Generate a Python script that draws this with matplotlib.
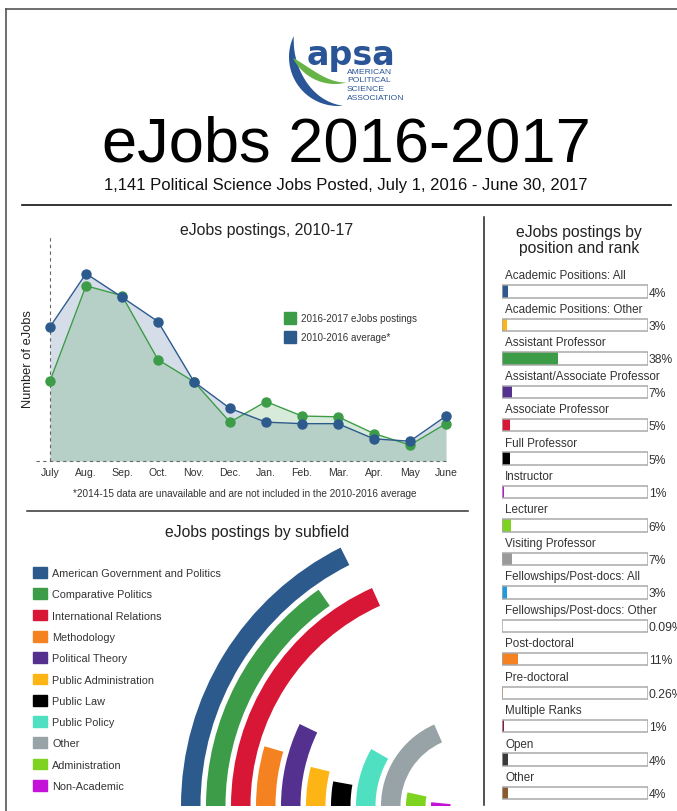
import numpy as np
import matplotlib
matplotlib.use("Agg")
import matplotlib.pyplot as plt
from matplotlib.lines import Line2D
from matplotlib.patches import Patch, Polygon

plt.rcParams["font.family"] = ["Liberation Sans", "DejaVu Sans"]

W, H = 677, 812

# line chart data (number of postings per month)
months = ["July", "Aug.", "Sep.", "Oct.", "Nov.", "Dec.",
          "Jan.", "Feb.", "Mar.", "Apr.", "May", "June"]
postings_2016 = [105, 230, 217, 133, 104, 51, 78, 59, 58, 36, 21, 49]
average_2010 = [176, 246, 215, 183, 104, 69, 51, 49, 49, 29, 26, 59]

# subfield radial bars (arc length in degrees)
subfields = ["American Government and Politics", "Comparative Politics",
             "International Relations", "Methodology", "Political Theory",
             "Public Administration", "Public Law", "Public Policy", "Other",
             "Administration", "Non-Academic"]
subfield_deg = [63.4, 55.0, 65.8, 16.2, 25.7, 13.8, 10.2, 30.0, 66.3, 12.3, 5.5]
subfield_colors = ["#2d5a8d", "#3d9c47", "#d81636", "#f58220", "#54308f",
                   "#fdb515", "#000000", "#4fe0c2", "#97a3a6", "#7ed321",
                   "#c512d8"]

# position and rank
ranks = ["Academic Positions: All", "Academic Positions: Other",
         "Assistant Professor", "Assistant/Associate Professor",
         "Associate Professor", "Full Professor", "Instructor", "Lecturer",
         "Visiting Professor", "Fellowships/Post-docs: All",
         "Fellowships/Post-docs: Other", "Post-doctoral", "Pre-doctoral",
         "Multiple Ranks", "Open", "Other"]
rank_pct = [4, 3, 38, 7, 5, 5, 1, 6, 7, 3, 0.09, 11, 0.26, 1, 4, 4]
rank_labels = ["4%", "3%", "38%", "7%", "5%", "5%", "1%", "6%", "7%", "3%",
               "0.09%", "11%", "0.26%", "1%", "4%", "4%"]
rank_colors = ["#2d5a8d", "#fdb515", "#3d9c47", "#54308f", "#d81636",
               "#000000", "#c512d8", "#7ed321", "#999999", "#1f9be0",
               "#1f9be0", "#f58220", "#f58220", "#8b1a3a", "#3a3a3a",
               "#8b5a2b"]

BLUE = "#2d5a8d"
GREEN = "#3d9c47"
LOGO_BLUE = "#2a5597"
LOGO_GREEN = "#66b446"
TXT = "#333333"


def fx(x):
    return x / W


def fy(y):
    return 1 - y / H


def box(x0, y0, x1, y1):
    # pixel box with top-left origin -> figure fraction rect
    return [x0 / W, 1 - y1 / H, (x1 - x0) / W, (y1 - y0) / H]


def rule(x0, y0, x1, y1, color="#222222", lw=1.1):
    fig.add_artist(Line2D([fx(x0), fx(x1)], [fy(y0), fy(y1)], color=color,
                          lw=lw, transform=fig.transFigure))


def swoosh(ax, cx, cy, r, a0, a1, thick, color, power=1.0):
    t = np.linspace(0, 1, 80)
    ang = np.radians(a0 + (a1 - a0) * t)
    w = thick * np.sin(np.pi * t ** power)
    outer = np.column_stack([cx + r * np.cos(ang), cy + r * np.sin(ang)])
    inner = np.column_stack([cx + (r - w) * np.cos(ang), cy + (r - w) * np.sin(ang)])
    ax.add_patch(Polygon(np.vstack([outer, inner[::-1]]), closed=True,
                         facecolor=color, edgecolor="none"))


fig = plt.figure(figsize=(W / 100, H / 100), dpi=100)

# page frame and rules
rule(6, 10, W, 10, color="#555555", lw=1.2)
rule(6, 10, 6, H, color="#555555", lw=1.2)
rule(22, 205.5, 671, 205.5, color="#111111", lw=1.2)
rule(27, 512, 468, 512, color="#333333", lw=1.1)
rule(484, 218, 484, 806, color="#222222", lw=1.1)

# logo
logo = fig.add_axes(box(270, 25, 420, 110))
logo.set_xlim(270, 420)
logo.set_ylim(110, 25)
logo.axis("off")
swoosh(logo, 338, 58, 49, 205, 84, 9, LOGO_BLUE, power=0.85)
swoosh(logo, 335, 38, 47, 153, 76, 7, LOGO_GREEN, power=0.75)
logo.text(350.5, 65, "apsa", fontsize=24, fontweight="bold", color=LOGO_BLUE,
          ha="center", va="baseline", family="DejaVu Sans")
for yy, word in zip([72, 80.5, 89.5, 98.5],
                    ["AMERICAN", "POLITICAL", "SCIENCE", "ASSOCIATION"]):
    logo.text(347, yy, word, fontsize=6.1, color=LOGO_BLUE, ha="left", va="center")

# headings
fig.text(fx(346), fy(162), "eJobs 2016-2017", fontsize=45.5, ha="center",
         va="baseline", color="black")
fig.text(fx(346), fy(190), "1,141 Political Science Jobs Posted, July 1, 2016 - June 30, 2017",
         fontsize=12, ha="center", va="baseline", color="#111111")

# line chart
ax = fig.add_axes(box(35.6, 238, 446, 462))
x = np.arange(len(months))
ax.fill_between(x, average_2010, color=BLUE, alpha=0.2, lw=0)
ax.fill_between(x, postings_2016, color=GREEN, alpha=0.2, lw=0)
ax.plot(x, postings_2016, color=GREEN, lw=1, marker="o", ms=6.5,
        clip_on=False, zorder=4)
ax.plot(x, average_2010, color=BLUE, lw=1, marker="o", ms=6.5,
        clip_on=False, zorder=5)
ax.axvline(0, color="#666666", lw=0.8, ls=(0, (3, 3)), clip_on=False, zorder=1)
ax.axhline(0, color="#666666", lw=0.8, ls=(0, (3, 3)), clip_on=False, zorder=1)
ax.set_xlim(-0.4, 11)
ax.set_ylim(0, 294)
for s in ax.spines.values():
    s.set_visible(False)
ax.set_xticks(x)
ax.set_xticklabels(months, fontsize=7.6, color=TXT)
ax.tick_params(axis="x", length=0, pad=4)
ax.set_yticks([])
ax.set_ylabel("Number of eJobs", fontsize=9.3, color="#222222")
ax.yaxis.set_label_coords(-0.004, 0.46)

fig.text(fx(267), fy(230), "eJobs postings, 2010-17", fontsize=11.4,
         ha="center", va="center", color="#222222")
fig.legend(handles=[Line2D([], [], marker="s", ls="none", ms=8, color=GREEN,
                           label="2016-2017 eJobs postings"),
                    Line2D([], [], marker="s", ls="none", ms=8, color=BLUE,
                           label="2010-2016 average*")],
           loc="upper left", bbox_to_anchor=(fx(285), fy(314)), frameon=False,
           fontsize=7.1, handlelength=1.1, handletextpad=0.5, labelspacing=0.92,
           borderpad=0, borderaxespad=0, labelcolor=TXT)
fig.text(fx(245), fy(494),
         "*2014-15 data are unavailable and are not included in the 2010-2016 average",
         fontsize=7.2, ha="center", va="center", color=TXT)

# subfield radial bars
fig.text(fx(257), fy(533), "eJobs postings by subfield", fontsize=11.3,
         ha="center", va="center", color="#222222")
R = 300
pol = fig.add_axes(box(470 - R, 807 - R, 470, 807), projection="polar")
pol.set_theta_offset(np.pi)
pol.set_theta_direction(-1)
pol.set_thetamin(0)
pol.set_thetamax(90)
pol.set_ylim(0, R)
pol.set_axis_off()
theta = np.radians(subfield_deg)
inner = 269.5 - 25 * np.arange(len(subfields))
pol.bar(theta / 2, 19.5, width=theta, bottom=inner, color=subfield_colors,
        lw=0, align="center")

fig.legend(handles=[Patch(facecolor=c, edgecolor=c, label=s)
                    for s, c in zip(subfields, subfield_colors)],
           loc="upper left", bbox_to_anchor=(fx(33.3), fy(568)), frameon=False,
           fontsize=7.8, handlelength=1.3, handleheight=1.14, handletextpad=0.45,
           labelspacing=0.95, borderpad=0, borderaxespad=0, labelcolor=TXT)

# position and rank bars
fig.text(fx(579), fy(240.5), "eJobs postings by\nposition and rank",
         fontsize=11.3, ha="center", va="center", color="#222222",
         linespacing=1.05)
rk = fig.add_axes(box(502.3, 259.07, 647.7, 810.7))
yy = np.arange(len(ranks))
rk.barh(yy, rank_pct, height=0.37, color=rank_colors, lw=0, zorder=2)
rk.barh(yy, [100] * len(ranks), height=0.37, facecolor="none",
        edgecolor="#aaaaaa", lw=1.1, zorder=3)
for i, (name, lab) in enumerate(zip(ranks, rank_labels)):
    rk.text(2, i - 0.48, name, fontsize=8.4, ha="left", va="center", color=TXT)
    rk.text(100.8, i + 0.03, lab, fontsize=8.7, ha="left", va="center", color=TXT,
            clip_on=False)
rk.set_xlim(0, 100)
rk.set_ylim(15.5, -1)
rk.axis("off")

fig.savefig("out.png", dpi=100)
